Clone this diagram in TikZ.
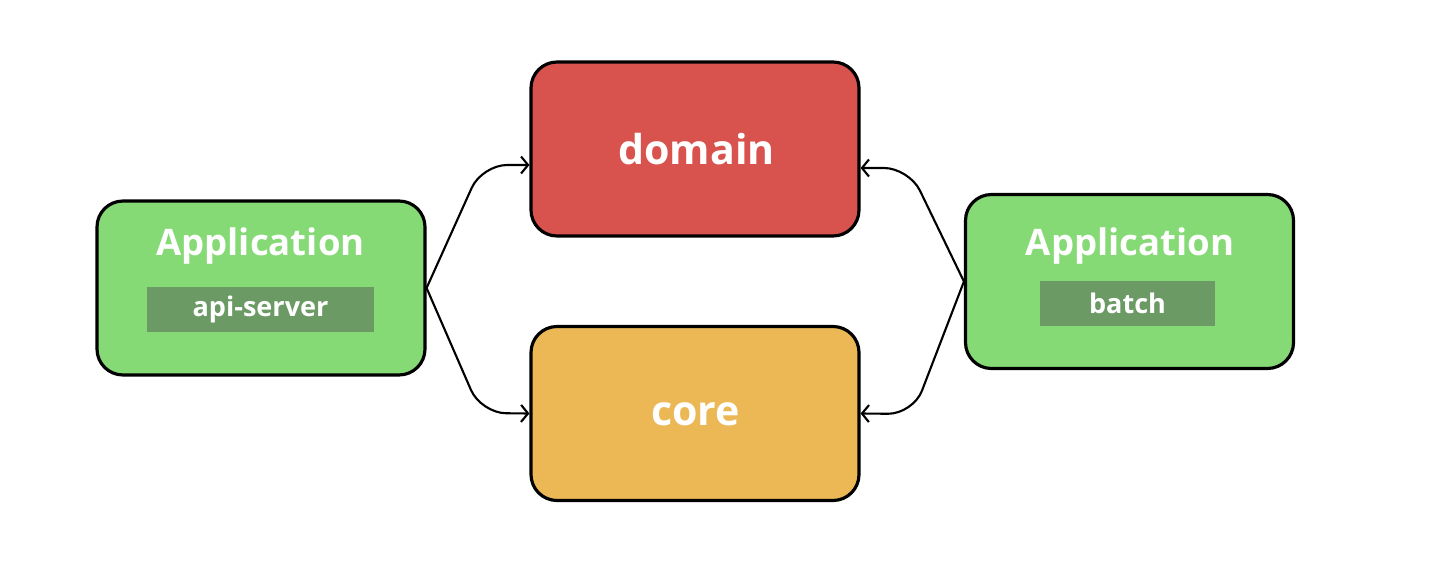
\documentclass[tikz,border=0pt]{standalone}
\usepackage{fontspec}
\setmainfont{Open Sans}
\usepackage{xcolor}
\usetikzlibrary{arrows.meta}

\definecolor{domainred}{HTML}{D9534E}
\definecolor{coreyellow}{HTML}{ECB856}
\definecolor{appgreen}{HTML}{85DA75}
\definecolor{taggreen}{HTML}{6C9A65}

\begin{document}
\begin{tikzpicture}[x=1cm,y=1cm]
\tikzset{module/.style={draw=black,line width=0.9pt,rounded corners=0.26cm,minimum width=3.28cm,minimum height=1.74cm}}
\tikzset{title/.style={text=white,font=\bfseries\fontsize{11.7}{14}\selectfont}}
\tikzset{tag/.style={fill=taggreen,inner ysep=0pt,minimum height=0.45cm,text=white,font=\bfseries\fontsize{7.7}{9}\selectfont}}
\tikzset{dep/.style={line width=0.6pt,rounded corners=0.25cm,-{Straight Barb[length=0.07cm,width=0.17cm]}}}

\useasboundingbox (0,0) rectangle (14.32,5.74);

\node[module,fill=domainred] (domain) at (6.95,4.25) {};
\node[title] at (6.965,4.245) {domain};
\node[module,fill=coreyellow] (core) at (6.95,1.605) {};
\node[title] at (6.955,1.595) {core};

\node[module,fill=appgreen] (api) at (2.61,2.86) {};
\node[title,font=\bfseries\fontsize{10.4}{13}\selectfont] at (2.605,3.28) {Application};
\node[tag,minimum width=2.27cm] (apitag) at (2.605,2.645) {api-server};

\node[module,fill=appgreen] (batch) at (11.295,2.925) {};
\node[title,font=\bfseries\fontsize{10.4}{13}\selectfont] at (11.30,3.28) {Application};
\node[tag,minimum width=1.75cm] (batchtag) at (11.275,2.705) {batch};

\draw[dep] (api.east) -- (4.82,4.09) -- ([yshift=-0.16cm]domain.west);
\draw[dep] (api.east) -- (4.81,1.61) -- (core.west);
\draw[dep] (batch.west) -- (9.09,4.06) -- ([yshift=-0.19cm]domain.east);
\draw[dep] (batch.west) -- (9.13,1.60) -- (core.east);

\end{tikzpicture}
\end{document}
